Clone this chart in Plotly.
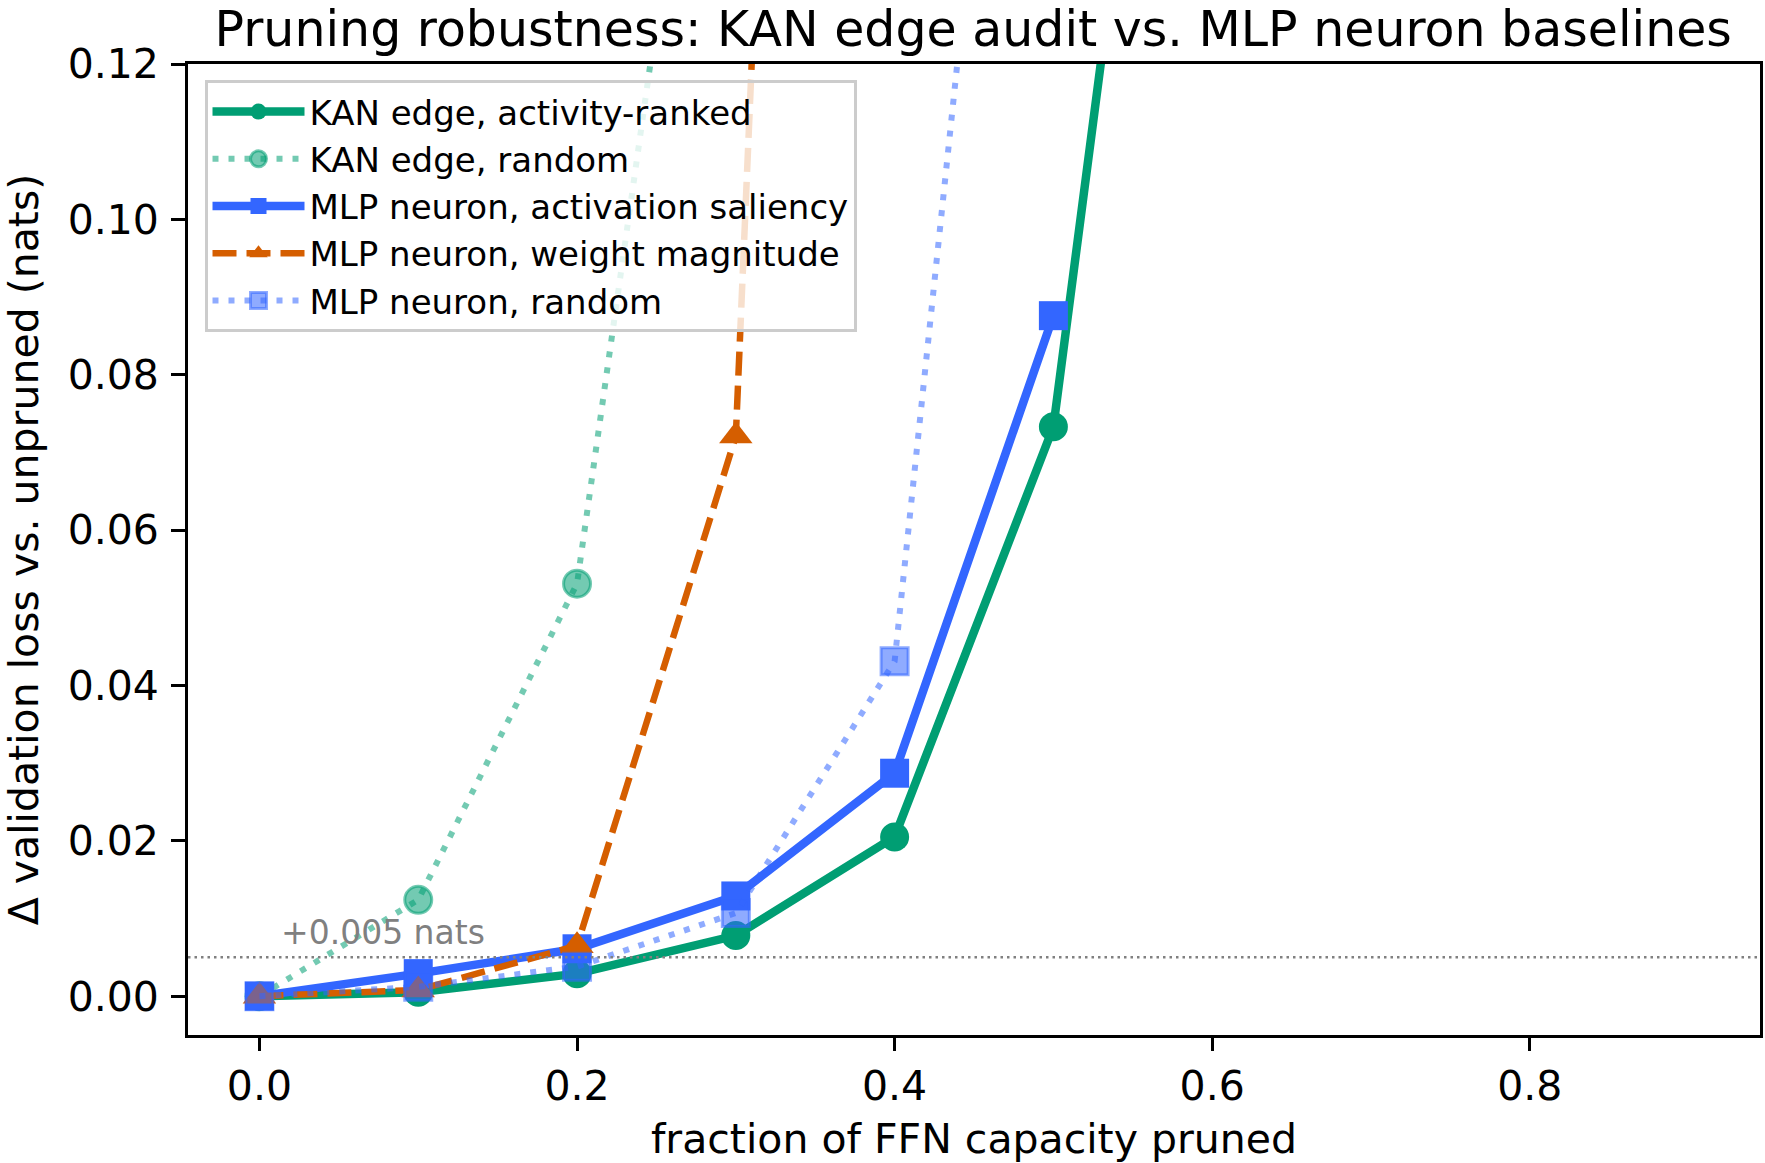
import plotly.graph_objects as go

fractions = [0.0, 0.1, 0.2, 0.3, 0.4, 0.5, 0.6, 0.7, 0.8, 0.9]
kan_activity = [0.0, 0.0005, 0.0029, 0.0078, 0.0205, 0.0733, 0.230, 0.46, 0.85, 1.40]
kan_random = [0.0, 0.0124, 0.0531, 0.198, 0.52, 1.05, 1.60, 2.20, 2.80, 3.30]
mlp_activation = [0.0, 0.0029, 0.0061, 0.0129, 0.0287, 0.0876, None, None, None, None]
mlp_weight = [0.0, 0.0008, 0.0065, 0.0721, 0.552, 1.30, 2.10, 2.90, 3.50, 4.00]
mlp_random = [0.0, 0.0012, 0.0038, 0.0107, 0.0431, 0.238, 0.62, 1.20, 1.90, 2.60]

names = ["KAN edge, activity-ranked", "KAN edge, random",
         "MLP neuron, activation saliency", "MLP neuron, weight magnitude",
         "MLP neuron, random"]
threshold = 0.005
threshold_label = "+0.005 nats"

xticks = [0.0, 0.2, 0.4, 0.6, 0.8]
xticklabels = ["0.0", "0.2", "0.4", "0.6", "0.8"]
yticks = [0.0, 0.02, 0.04, 0.06, 0.08, 0.10, 0.12]
yticklabels = ["0.00", "0.02", "0.04", "0.06", "0.08", "0.10", "0.12"]

GREEN = "#009E73"
GREEN_A = "rgba(0,158,115,0.55)"
BLUE = "#3366FF"
BLUE_A = "rgba(51,102,255,0.55)"
ORANGE = "#D55E00"
FONT = "DejaVu Sans"

fig = go.Figure()
fig.add_trace(go.Scatter(
    x=fractions, y=kan_activity, name=names[0], mode="lines+markers",
    line=dict(color=GREEN, width=8.5),
    marker=dict(symbol="circle", size=29, color=GREEN, line=dict(width=0))))
fig.add_trace(go.Scatter(
    x=fractions, y=kan_random, name=names[1], mode="lines+markers",
    line=dict(color=GREEN_A, width=6, dash="6px,10px"),
    marker=dict(symbol="circle", size=27, color=GREEN_A, line=dict(width=3, color=GREEN_A))))
fig.add_trace(go.Scatter(
    x=fractions, y=mlp_activation, name=names[2], mode="lines+markers",
    line=dict(color=BLUE, width=8.5),
    marker=dict(symbol="square", size=29, color=BLUE, line=dict(width=0))))
fig.add_trace(go.Scatter(
    x=fractions, y=mlp_weight, name=names[3], mode="lines+markers",
    line=dict(color=ORANGE, width=6.5, dash="24px,10px"),
    marker=dict(symbol="triangle-up", size=29, color=ORANGE, line=dict(width=0))))
fig.add_trace(go.Scatter(
    x=fractions, y=mlp_random, name=names[4], mode="lines+markers",
    line=dict(color=BLUE_A, width=6, dash="6px,10px"),
    marker=dict(symbol="square", size=27, color=BLUE_A, line=dict(width=3, color=BLUE_A))))

fig.add_shape(type="line", xref="paper", x0=0, x1=1, yref="y", y0=threshold, y1=threshold,
              line=dict(color="gray", width=2.5, dash="2.5px,4px"), layer="above")
fig.add_annotation(x=0.012, y=0.0054, xref="x", yref="y", text=threshold_label,
                   showarrow=False, xanchor="left", yanchor="bottom",
                   font=dict(family=FONT, size=33, color="gray"))

fig.update_layout(
    width=1765, height=1163,
    margin=dict(l=186, r=2, t=64, b=128, pad=0),
    paper_bgcolor="white", plot_bgcolor="white",
    font=dict(family=FONT, size=41, color="black"),
    title=dict(text="Pruning robustness: KAN edge audit vs. MLP neuron baselines",
               x=0.5514, xanchor="center", xref="container",
               y=1 - 12 / 1163, yanchor="top", yref="container", pad=dict(t=0, b=0),
               font=dict(family=FONT, size=49, color="black")),
    showlegend=True,
    legend=dict(x=0.0105, y=0.9835, xanchor="left", yanchor="top",
                bgcolor="rgba(255,255,255,0.8)", bordercolor="#cccccc", borderwidth=3,
                font=dict(family=FONT, size=34, color="black"),
                itemwidth=92, tracegroupgap=0),
)
fig.update_xaxes(range=[-0.045, 0.945], tickvals=xticks, ticktext=xticklabels,
                 ticks="outside", ticklen=13, tickwidth=2.5, tickcolor="black",
                 showline=True, linecolor="black", linewidth=2.7, mirror=True,
                 showgrid=False, zeroline=False,
                 tickfont=dict(family=FONT, size=41, color="black"),
                 title=dict(text="fraction of FFN capacity pruned", standoff=18,
                            font=dict(family=FONT, size=41, color="black")))
fig.update_yaxes(range=[-0.005, 0.12], tickvals=yticks, ticktext=yticklabels,
                 ticks="outside", ticklen=14, tickwidth=2.5, tickcolor="black",
                 showline=True, linecolor="black", linewidth=2.7, mirror=True,
                 showgrid=False, zeroline=False, ticklabelstandoff=4,
                 tickfont=dict(family=FONT, size=41, color="black"),
                 title=dict(text="Δ validation loss vs. unpruned (nats)", standoff=37,
                            font=dict(family=FONT, size=41, color="black")))

fig.write_html("out.html")
